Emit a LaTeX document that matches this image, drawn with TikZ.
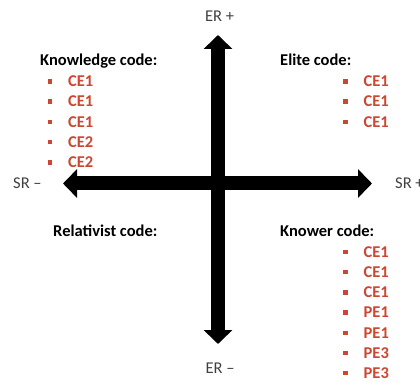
\documentclass[tikz,border=0pt]{standalone}
\usepackage{fontspec}
\setmainfont{Carlito}
\usetikzlibrary{arrows.meta}
\definecolor{codered}{RGB}{205,70,50}

\begin{document}
\begin{tikzpicture}[x=1pt,y=-1pt,
                    axis/.style={line width=14pt,
                      {Triangle[length=14pt,width=28pt]}-{Triangle[length=14pt,width=28pt]}},
                    txt/.style={inner sep=0pt,text height=10.6pt,text depth=0pt,
                      font=\fontsize{16.5}{19}\selectfont},
                    axlabel/.style={txt,text=black!75},
                    title/.style={txt,anchor=west,font=\fontsize{16.5}{19}\selectfont\bfseries},
                    item/.style={title,text=codered,label={[sq,label distance=15.5pt]left:{}}},
                    sq/.style={fill=codered,minimum size=4.5pt,inner sep=0pt}]

\useasboundingbox (0,0) rectangle (420,382);

% axes
\coordinate (ertop) at (218,35);
\coordinate (erbot) at (218,344);
\coordinate (srleft) at (63,183.5);
\coordinate (srright) at (372,183.5);

\draw[axis] (erbot) -- (ertop);
\draw[axis] (srleft) -- (srright);

\node[axlabel] (erplus) at (219.5,16) {ER +};
\node[axlabel] (erminus) at (220,368) {ER --};
\node[axlabel,anchor=west] (srminus) at (13,183) {SR --};
\node[axlabel,anchor=west] (srplus) at (395,183) {SR +};

% knowledge code
\node[title] (know) at (40,60.3) {Knowledge code:};
\node[item] (k1) at (68,81.3) {CE1};
\node[item] (k2) at (68,101.6) {CE1};
\node[item] (k3) at (68,121.9) {CE1};
\node[item] (k4) at (68,142.2) {CE2};
\node[item] (k5) at (68,162.5) {CE2};

% elite code
\node[title] (elite) at (280,60.3) {Elite code:};
\node[item] (e1) at (363.5,81.3) {CE1};
\node[item] (e2) at (363.5,101.6) {CE1};
\node[item] (e3) at (363.5,121.9) {CE1};

% relativist code
\node[title] (rel) at (53,231.3) {Relativist code:};

% knower code
\node[title] (knower) at (280,231.3) {Knower code:};
\node[item] (w1) at (363.5,252) {CE1};
\node[item] (w2) at (363.5,272.2) {CE1};
\node[item] (w3) at (363.5,292.4) {CE1};
\node[item] (w4) at (363.5,312.6) {PE1};
\node[item] (w5) at (363.5,332.8) {PE1};
\node[item] (w6) at (363.5,353) {PE3};
\node[item] (w7) at (363.5,373.2) {PE3};

\end{tikzpicture}
\end{document}
